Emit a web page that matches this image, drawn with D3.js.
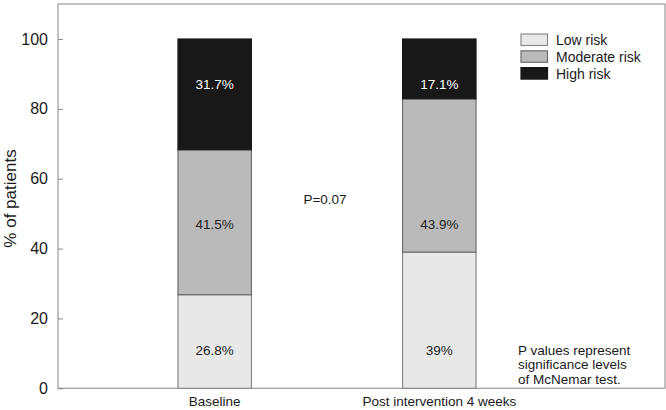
<!DOCTYPE html>
<html><head><meta charset="utf-8">
<script src="https://cdn.jsdelivr.net/npm/d3@7/dist/d3.min.js"></script>
<style>body{margin:0;background:#fff}svg{display:block;font-family:"Liberation Sans",Arial,Helvetica,sans-serif}</style>
</head><body><svg id="c" width="666" height="410"></svg>
<script>
const categories = ["Baseline", "Post intervention 4 weeks"];
const seriesNames = ["Low risk", "Moderate risk", "High risk"];
const lowRisk = [26.8, 39];
const moderateRisk = [41.5, 43.9];
const highRisk = [31.7, 17.1];
const valueLabels = [["26.8%", "39%"], ["41.5%", "43.9%"], ["31.7%", "17.1%"]];
const labelPositions = [11, 47, 87];
const yTicks = [0, 20, 40, 60, 80, 100];
const pText = "P=0.07";
const pPosition = 54;
const footnote = ["P values represent", "significance levels", "of McNemar test."];

const colors = ["#e8e8e8", "#bababa", "#181818"];
const strokes = ["#8a8a8a", "#6e6e6e", "#181818"];
const textColors = ["#222", "#222", "#fff"];

const svg = d3.select("#c");
const L = 58, R = 665, T = 4, B = 388.3;
const y = d3.scaleLinear().domain([0, 100]).range([B, 39]);
const x = d3.scaleBand().domain(categories).range([102.4, 551.6]).paddingInner(0.673).paddingOuter(0.3365);

// frame
svg.append("rect").attr("x", L).attr("y", T).attr("width", R - L).attr("height", B - T)
  .attr("fill", "none").attr("stroke", "#9a9a9a").attr("stroke-width", 1.2);

const rows = categories.map((c, i) => ({cat: c, "Low risk": lowRisk[i], "Moderate risk": moderateRisk[i], "High risk": highRisk[i]}));
const stack = d3.stack().keys(seriesNames)(rows);

stack.forEach((s, si) => {
  svg.append("g").selectAll("rect").data(s).join("rect")
    .attr("x", d => x(d.data.cat))
    .attr("y", d => y(d[1]))
    .attr("width", x.bandwidth())
    .attr("height", d => y(d[0]) - y(d[1]))
    .attr("fill", colors[si])
    .attr("stroke", strokes[si]).attr("stroke-width", 1.2);
});
stack.forEach((s, si) => {
  svg.append("g").selectAll("text").data(s).join("text")
    .attr("x", d => x(d.data.cat) + x.bandwidth() / 2)
    .attr("y", y(labelPositions[si]))
    .attr("dy", "0.35em")
    .attr("text-anchor", "middle")
    .attr("font-size", 13.5)
    .attr("fill", textColors[si])
    .text((d, i) => valueLabels[si][i]);
});

// y axis
const yAxis = d3.axisLeft(y).tickValues(yTicks).tickSize(-5).tickPadding(10);
const gy = svg.append("g").attr("transform", `translate(${L},0)`).call(yAxis);
gy.select(".domain").remove();
gy.selectAll(".tick line").attr("stroke", "#8a8a8a");
gy.selectAll(".tick text").attr("font-size", 16).attr("fill", "#1a1a1a").attr("font-family", "Liberation Sans, Arial, sans-serif");

// x axis
const xAxis = d3.axisBottom(x).tickSize(0).tickPadding(8);
const gx = svg.append("g").attr("transform", `translate(0,${B})`).call(xAxis);
gx.select(".domain").remove();
gx.selectAll(".tick text").attr("font-size", 13.5).attr("fill", "#1a1a1a").attr("font-family", "Liberation Sans, Arial, sans-serif");

// y label
svg.append("text").attr("transform", `translate(15.5,198.5) rotate(-90)`)
  .attr("text-anchor", "middle").attr("font-size", 17).attr("fill", "#1a1a1a").text("% of patients");

// P value
svg.append("text").attr("x", (x(categories[0]) + x(categories[1]) + x.bandwidth()) / 2 - 2).attr("y", y(pPosition))
  .attr("dy", "0.35em").attr("text-anchor", "middle").attr("font-size", 13.5).attr("fill", "#1a1a1a").text(pText);

// legend
const lg = svg.append("g").attr("transform", "translate(521,34)");
seriesNames.forEach((n, i) => {
  lg.append("rect").attr("x", 0).attr("y", i * 16.8).attr("width", 26.5).attr("height", 11.5)
    .attr("fill", colors[i]).attr("stroke", strokes[i]).attr("stroke-width", 1.2);
  lg.append("text").attr("x", 35).attr("y", i * 16.8 + 6).attr("dy", "0.35em")
    .attr("font-size", 14).attr("fill", "#1a1a1a").text(n);
});

// footnote
footnote.forEach((t, i) => {
  svg.append("text").attr("x", 518).attr("y", 355 + i * 14.3)
    .attr("font-size", 13.5).attr("fill", "#1a1a1a").text(t);
});
</script></body></html>
